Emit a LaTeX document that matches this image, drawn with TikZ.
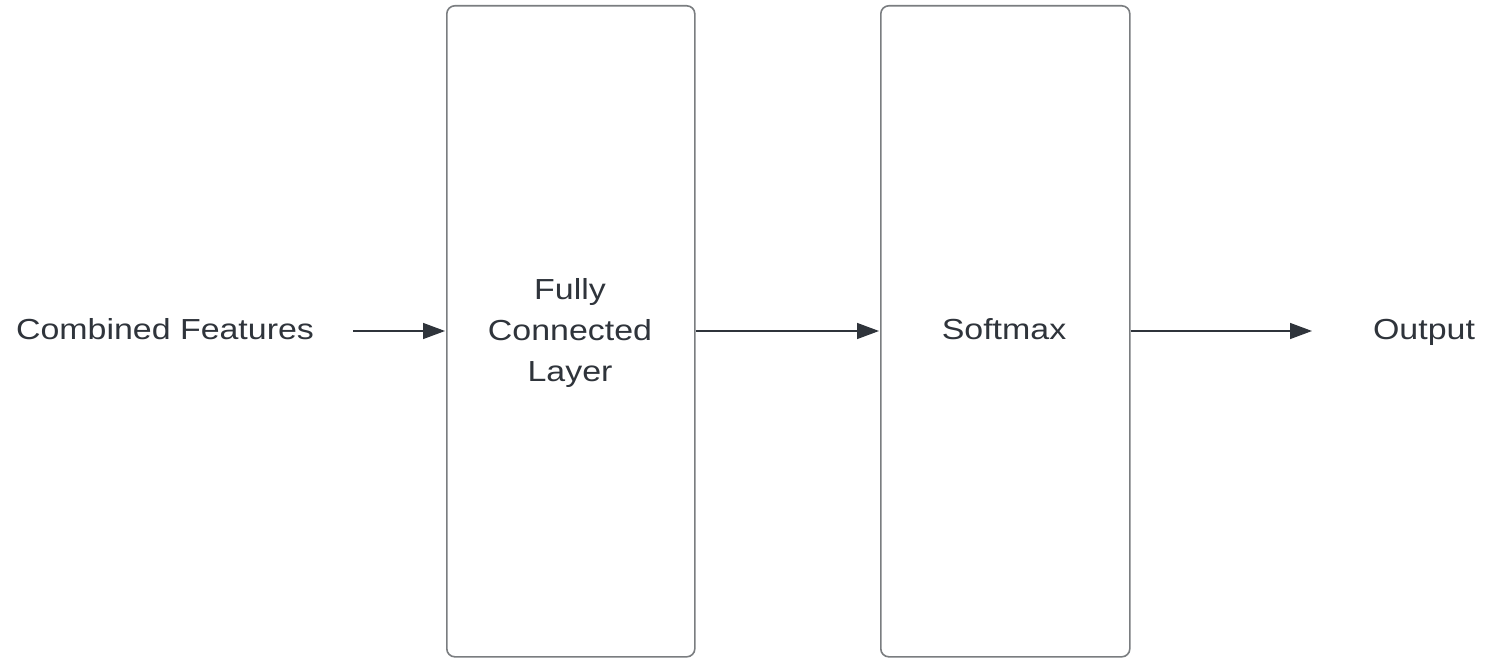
\documentclass[tikz,border=0pt]{standalone}
\usepackage{fontspec}
\setmainfont[FakeStretch=1.17]{Liberation Sans}
\usetikzlibrary{arrows.meta}
\definecolor{ink}{HTML}{2F343B}
\definecolor{frame}{HTML}{7A7D80}
\tikzset{
  layerbox/.style={draw=frame, line width=1.6pt, rounded corners=8pt, fill=white},
  lbl/.style={text=ink, font=\fontsize{29}{41}\selectfont, align=center, inner sep=0pt},
  flow/.style={draw=ink, line width=1.4pt, -{Triangle[length=22pt,width=16pt]}, shorten >=1pt}
}
\begin{document}
\begin{tikzpicture}[x=1pt,y=-1pt]
  \useasboundingbox (0,0) rectangle (1488,658);
  % processing stages
  \node[layerbox, minimum width=248pt, minimum height=651pt, anchor=north west] (fc) at (446,5) {};
  \node[layerbox, minimum width=249pt, minimum height=651pt, anchor=north west] (sm) at (880,5) {};
  \node[lbl] at (570,332.5) {Fully\\Connected\\Layer};
  \node[lbl, anchor=base] at (1004,339) {Softmax};
  % input and output labels
  \node[lbl, anchor=base] (in) at (165,339) {Combined Features};
  \node[lbl, anchor=base] (out) at (1424,339) {Output};
  \coordinate (inend) at (353,331);
  \coordinate (outend) at (1313,331);
  % connectors
  \draw[flow] (inend) -- (fc.west |- inend);
  \draw[flow] (fc.east |- inend) -- (sm.west |- inend);
  \draw[flow] (sm.east |- inend) -- (outend);
\end{tikzpicture}
\end{document}
